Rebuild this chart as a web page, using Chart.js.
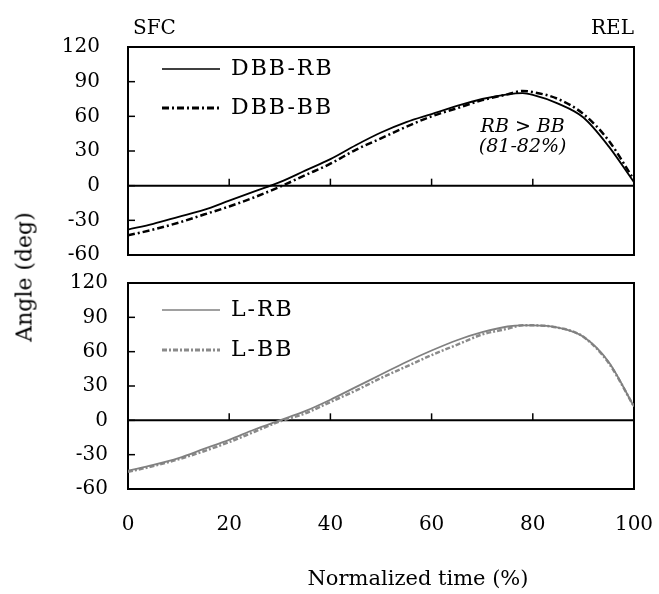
<!DOCTYPE html>
<html>
<head>
<meta charset="utf-8">
<script src="https://cdn.jsdelivr.net/npm/chart.js@4"></script>
<style>
    body { margin: 0; background: #fff; }
    #wrap { position: relative; width: 659px; height: 594px; }
    #top, #bottom { position: absolute; left: 0; }
    #top { top: 0; }
    #bottom { top: 262px; }
    #yTitle {
        position: absolute; left: 24px; top: 277px;
        transform: translate(-50%, -50%) rotate(-90deg);
        font: 22px "DejaVu Serif", serif; white-space: nowrap; color: #000;
    }
</style>
</head>
<body>
<div id="wrap">
    <canvas id="top" width="659" height="262"></canvas>
    <canvas id="bottom" width="659" height="332"></canvas>
    <div id="yTitle">Angle (deg)</div>
</div>
<script>
const timePct = [0, 5, 10, 15, 20, 25, 30, 35, 40, 45, 50, 55, 60, 65, 70, 75, 78, 80, 85, 90, 95, 100]
const dbbRb = [-38, -33, -27, -21, -13, -5, 3, 13, 23, 35, 46, 55, 62, 69, 75, 79, 80, 78.5, 71, 59, 34, 3]
const dbbBb = [-43, -38, -32, -25, -18, -10, -1, 9, 19, 31, 41, 51, 60, 67, 74, 79, 82, 81, 75, 62, 39, 5]
const lRb = [-44, -39, -33, -25, -17, -8, 0, 8, 18, 29, 40, 51, 61, 70, 77, 82, 83, 83, 81, 73, 51, 12]
const lBb = [-45, -40, -34, -27, -19, -10, -1, 6, 16, 26, 37, 47, 57, 66, 75, 80, 83, 83, 81, 73, 50, 12]
const angleTicks = [-60, -30, 0, 30, 60, 90, 120]
const timeTicks = [0, 20, 40, 60, 80, 100]

const serif = '"DejaVu Serif", serif'
const toPoints = (values) => values.map((v, i) => ({x: timePct[i], y: v}))

// box, zero line, inward ticks, legend and notes
const panelPlugin = {
    id: 'panel',
    beforeDatasetsDraw(chart, args, opts) {
        const {ctx, chartArea: a, scales: {x, y}} = chart
        ctx.save()
        ctx.strokeStyle = '#000'
        ctx.lineWidth = 2
        ctx.strokeRect(a.left, a.top, a.right - a.left, a.bottom - a.top)
        const y0 = y.getPixelForValue(0)
        ctx.beginPath()
        ctx.moveTo(a.left, y0)
        ctx.lineTo(a.right, y0)
        ctx.stroke()
        ctx.lineWidth = 1.5
        angleTicks.forEach(v => {
            const py = y.getPixelForValue(v)
            ctx.beginPath()
            ctx.moveTo(a.left, py)
            ctx.lineTo(a.left + 7, py)
            ctx.stroke()
        })
        timeTicks.slice(1, -1).forEach(v => {
            const px = x.getPixelForValue(v)
            ctx.beginPath()
            ctx.moveTo(px, y0)
            ctx.lineTo(px, y0 - 7)
            ctx.stroke()
        })
        ctx.restore()
    },
    afterDraw(chart, args, opts) {
        const {ctx, chartArea: a, scales: {x, y}} = chart
        ctx.save()
        ctx.textBaseline = 'middle'
        chart.data.datasets.forEach((ds, i) => {
            const ly = a.top + opts.legendRows[i]
            ctx.strokeStyle = ds.borderColor
            ctx.lineWidth = ds.borderDash ? 3 : 1.5
            ctx.setLineDash(ds.borderDash || [])
            ctx.beginPath()
            ctx.moveTo(162, ly)
            ctx.lineTo(220, ly)
            ctx.stroke()
            ctx.setLineDash([])
            ctx.fillStyle = '#000'
            ctx.font = '22px ' + serif
            ctx.letterSpacing = '2px'
            ctx.textAlign = 'left'
            ctx.fillText(ds.label, 231, ly)
            ctx.letterSpacing = '0px'
        })
        ctx.fillStyle = '#000'
        if (opts.notes) {
            ctx.font = 'italic 19px ' + serif
            ctx.textAlign = 'center'
            opts.notes.forEach(n => ctx.fillText(n.text, x.getPixelForValue(n.x), y.getPixelForValue(n.y)))
        }
        if (opts.ends) {
            ctx.font = '20px ' + serif
            ctx.textAlign = 'left'
            ctx.fillText(opts.ends[0], 133, 29)
            ctx.textAlign = 'right'
            ctx.fillText(opts.ends[1], 634, 29)
        }
        if (opts.xTitle) {
            ctx.font = '21px ' + serif
            ctx.textAlign = 'center'
            ctx.fillText(opts.xTitle, 418, 318)
        }
        ctx.restore()
    }
}

const makeOptions = (labelPad, showX, panelOpts) => ({
    responsive: false,
    animation: false,
    devicePixelRatio: 1,
    layout: {padding: showX ? {top: 21, right: 25, bottom: 0, left: 0} : {top: 47, right: 25, bottom: 7, left: 0}},
    plugins: {legend: {display: false}, tooltip: {enabled: false}, panel: panelOpts},
    elements: {point: {radius: 0}, line: {tension: 0.35, cubicInterpolationMode: 'monotone'}},
    scales: {
        x: {
            type: 'linear', min: 0, max: 100,
            display: showX,
            afterFit: scale => {
                scale.height = showX ? 105 : 0
                scale.paddingLeft = 0
                scale.paddingRight = 0
            },
            afterBuildTicks: scale => { scale.ticks = timeTicks.map(v => ({value: v})) },
            grid: {display: false, drawTicks: false},
            border: {display: false},
            ticks: {color: '#000', padding: 24, autoSkip: false, maxRotation: 0, font: {family: serif, size: 20}}
        },
        y: {
            min: -60, max: 120,
            afterFit: scale => {
                scale.width = 128
                scale.paddingTop = 0
                scale.paddingBottom = 0
            },
            afterBuildTicks: scale => { scale.ticks = angleTicks.map(v => ({value: v})) },
            grid: {display: false, drawTicks: false},
            border: {display: false},
            ticks: {color: '#000', padding: labelPad, autoSkip: false, font: {family: serif, size: 20}}
        }
    }
})

new Chart(document.getElementById('top'), {
    type: 'line',
    data: {
        datasets: [
            {label: 'DBB-RB', data: toPoints(dbbRb), borderColor: '#000', borderWidth: 1.8},
            {label: 'DBB-BB', data: toPoints(dbbBb), borderColor: '#000', borderWidth: 2.5, borderDash: [7, 3, 2, 3]}
        ]
    },
    options: makeOptions(28, false, {
        legendRows: [22, 61],
        notes: [{text: 'RB > BB', x: 78, y: 51}, {text: '(81-82%)', x: 78, y: 33.5}],
        ends: ['SFC', 'REL']
    }),
    plugins: [panelPlugin]
})

new Chart(document.getElementById('bottom'), {
    type: 'line',
    data: {
        datasets: [
            {label: 'L-RB', data: toPoints(lRb), borderColor: '#808080', borderWidth: 1.8},
            {label: 'L-BB', data: toPoints(lBb), borderColor: '#8a8a8a', borderWidth: 2.5, borderDash: [5, 2, 2, 2]}
        ]
    },
    options: makeOptions(20, true, {legendRows: [27, 67], xTitle: 'Normalized time (%)'}),
    plugins: [panelPlugin]
})
</script>
</body>
</html>
